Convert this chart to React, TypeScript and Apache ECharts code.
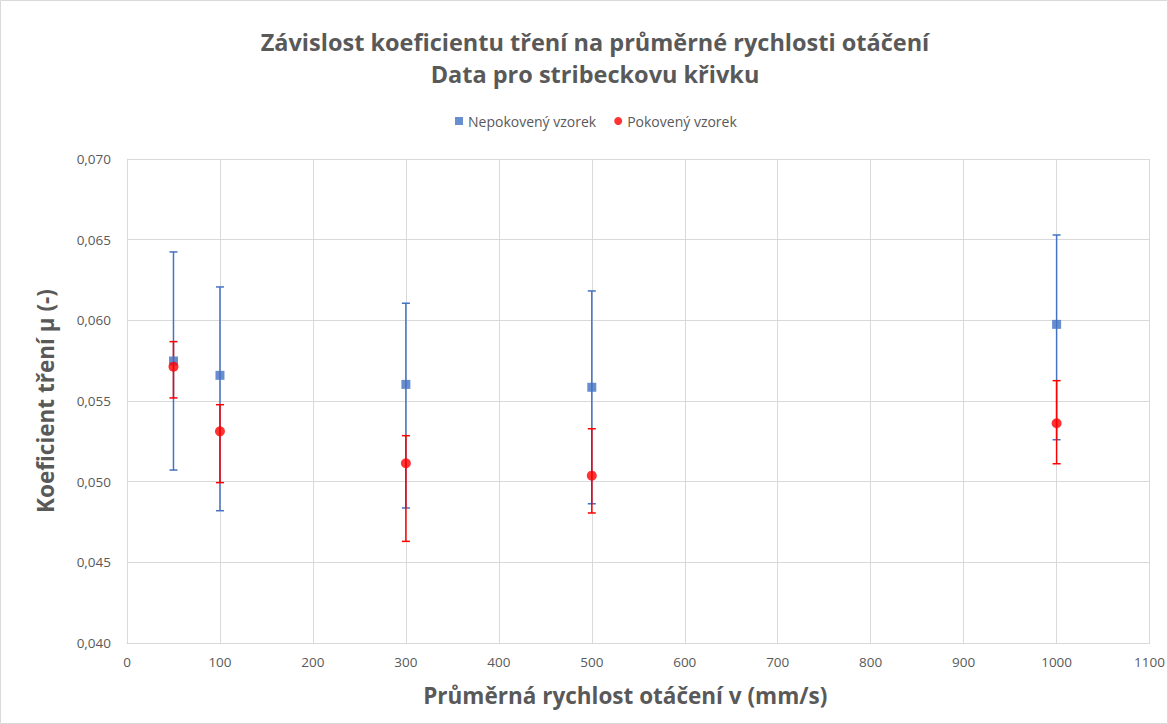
import React, { useEffect, useRef } from "react";
import * as echarts from "echarts";

const speeds = [50, 100, 300, 500, 1000];
const uncoatedMean = [0.05748, 0.05659, 0.05603, 0.05585, 0.05975];
const uncoatedHigh = [0.06424, 0.06207, 0.06106, 0.06182, 0.06529];
const uncoatedLow = [0.05072, 0.0482, 0.04837, 0.04863, 0.0526];
const coatedMean = [0.05713, 0.05312, 0.05114, 0.05037, 0.05362];
const coatedHigh = [0.05868, 0.05477, 0.05285, 0.05328, 0.05626];
const coatedLow = [0.05519, 0.04994, 0.0463, 0.04806, 0.05111];

const BLUE = "#4472C4";
const RED = "#FF0000";
const GRAY = "#595959";
const FONT = "Open Sans";

function errorSeries(name: string, color: string, low: number[], high: number[]) {
  return {
    name,
    type: "custom",
    data: speeds.map((s, i) => [s, low[i], high[i]]),
    encode: { x: 0, y: [1, 2] },
    silent: true,
    renderItem: (params: any, api: any) => {
      const x = api.value(0);
      const pLo = api.coord([x, api.value(1)]);
      const pHi = api.coord([x, api.value(2)]);
      const hw = 4;
      const st = { stroke: color, lineWidth: 1.5 };
      return {
        type: "group",
        children: [
          { type: "line", shape: { x1: pHi[0], y1: pHi[1], x2: pLo[0], y2: pLo[1] }, style: st },
          { type: "line", shape: { x1: pHi[0] - hw, y1: pHi[1], x2: pHi[0] + hw, y2: pHi[1] }, style: st },
          { type: "line", shape: { x1: pLo[0] - hw, y1: pLo[1], x2: pLo[0] + hw, y2: pLo[1] }, style: st },
        ],
      };
    },
  };
}

export default function App() {
  const ref = useRef<HTMLDivElement>(null);
  useEffect(() => {
    document.body.style.margin = "0";
    const chart = echarts.init(ref.current!, null, { renderer: "svg" });
    chart.setOption({
      animation: false,
      backgroundColor: "#ffffff",
      textStyle: { fontFamily: FONT },
      title: {
        text: "Závislost koeficientu tření na průměrné rychlosti otáčení\nData pro stribeckovu křivku",
        left: 590,
        textAlign: "center",
        top: 21,
        textStyle: { fontFamily: FONT, fontSize: 23.5, fontWeight: "bold", color: GRAY, lineHeight: 32 },
      },
      legend: {
        top: 109,
        left: 450,
        itemWidth: 8,
        itemHeight: 8,
        itemGap: 18,
        data: [
          { name: "Nepokovený vzorek", icon: "rect" },
          { name: "Pokovený vzorek", icon: "circle" },
        ],
        textStyle: { fontFamily: FONT, fontSize: 14, color: GRAY },
      },
      graphic: [
        {
          type: "rect",
          shape: { x: 0.5, y: 0.5, width: 1167, height: 723 },
          style: { fill: "none", stroke: "#d9d9d9", lineWidth: 1 },
          silent: true,
        },
      ],
      grid: { left: 127, right: 16, top: 159, bottom: 81, containLabel: false },
      xAxis: {
        type: "value",
        min: 0,
        max: 1100,
        interval: 100,
        name: "Průměrná rychlost otáčení v (mm/s)",
        nameLocation: "middle",
        nameGap: 41,
        nameTextStyle: {
          fontFamily: FONT,
          fontSize: 22.5,
          fontWeight: "bold",
          color: GRAY,
          padding: [0, 26, 0, 0],
        },
        axisLine: { show: true, lineStyle: { color: "#d9d9d9" } },
        axisTick: { show: false },
        axisLabel: {
          fontFamily: FONT,
          fontSize: 13.5,
          color: GRAY,
          margin: 12,
          formatter: (v: number) => String(v),
        },
        splitLine: { show: true, lineStyle: { color: "#d9d9d9", width: 1 } },
      },
      yAxis: {
        type: "value",
        min: 0.04,
        max: 0.07,
        interval: 0.005,
        name: "Koeficient tření µ (-)",
        nameLocation: "middle",
        nameGap: 70,
        nameTextStyle: { fontFamily: FONT, fontSize: 22.5, fontWeight: "bold", color: GRAY },
        axisLine: { show: true, lineStyle: { color: "#d9d9d9" } },
        axisTick: { show: false },
        axisLabel: {
          fontFamily: FONT,
          fontSize: 13.5,
          color: GRAY,
          margin: 16,
          formatter: (v: number) => v.toFixed(3).replace(".", ","),
        },
        splitLine: { show: true, lineStyle: { color: "#d9d9d9", width: 1 } },
      },
      series: [
        errorSeries("err-uncoated", BLUE, uncoatedLow, uncoatedHigh),
        {
          name: "Nepokovený vzorek",
          type: "scatter",
          symbol: "rect",
          symbolSize: 9,
          itemStyle: { color: BLUE },
          data: speeds.map((s, i) => [s, uncoatedMean[i]]),
        },
        errorSeries("err-coated", RED, coatedLow, coatedHigh),
        {
          name: "Pokovený vzorek",
          type: "scatter",
          symbol: "circle",
          symbolSize: 10,
          itemStyle: { color: RED },
          data: speeds.map((s, i) => [s, coatedMean[i]]),
        },
      ],
    });
    return () => chart.dispose();
  }, []);
  return <div ref={ref} style={{ width: 1168, height: 724 }} />;
}
